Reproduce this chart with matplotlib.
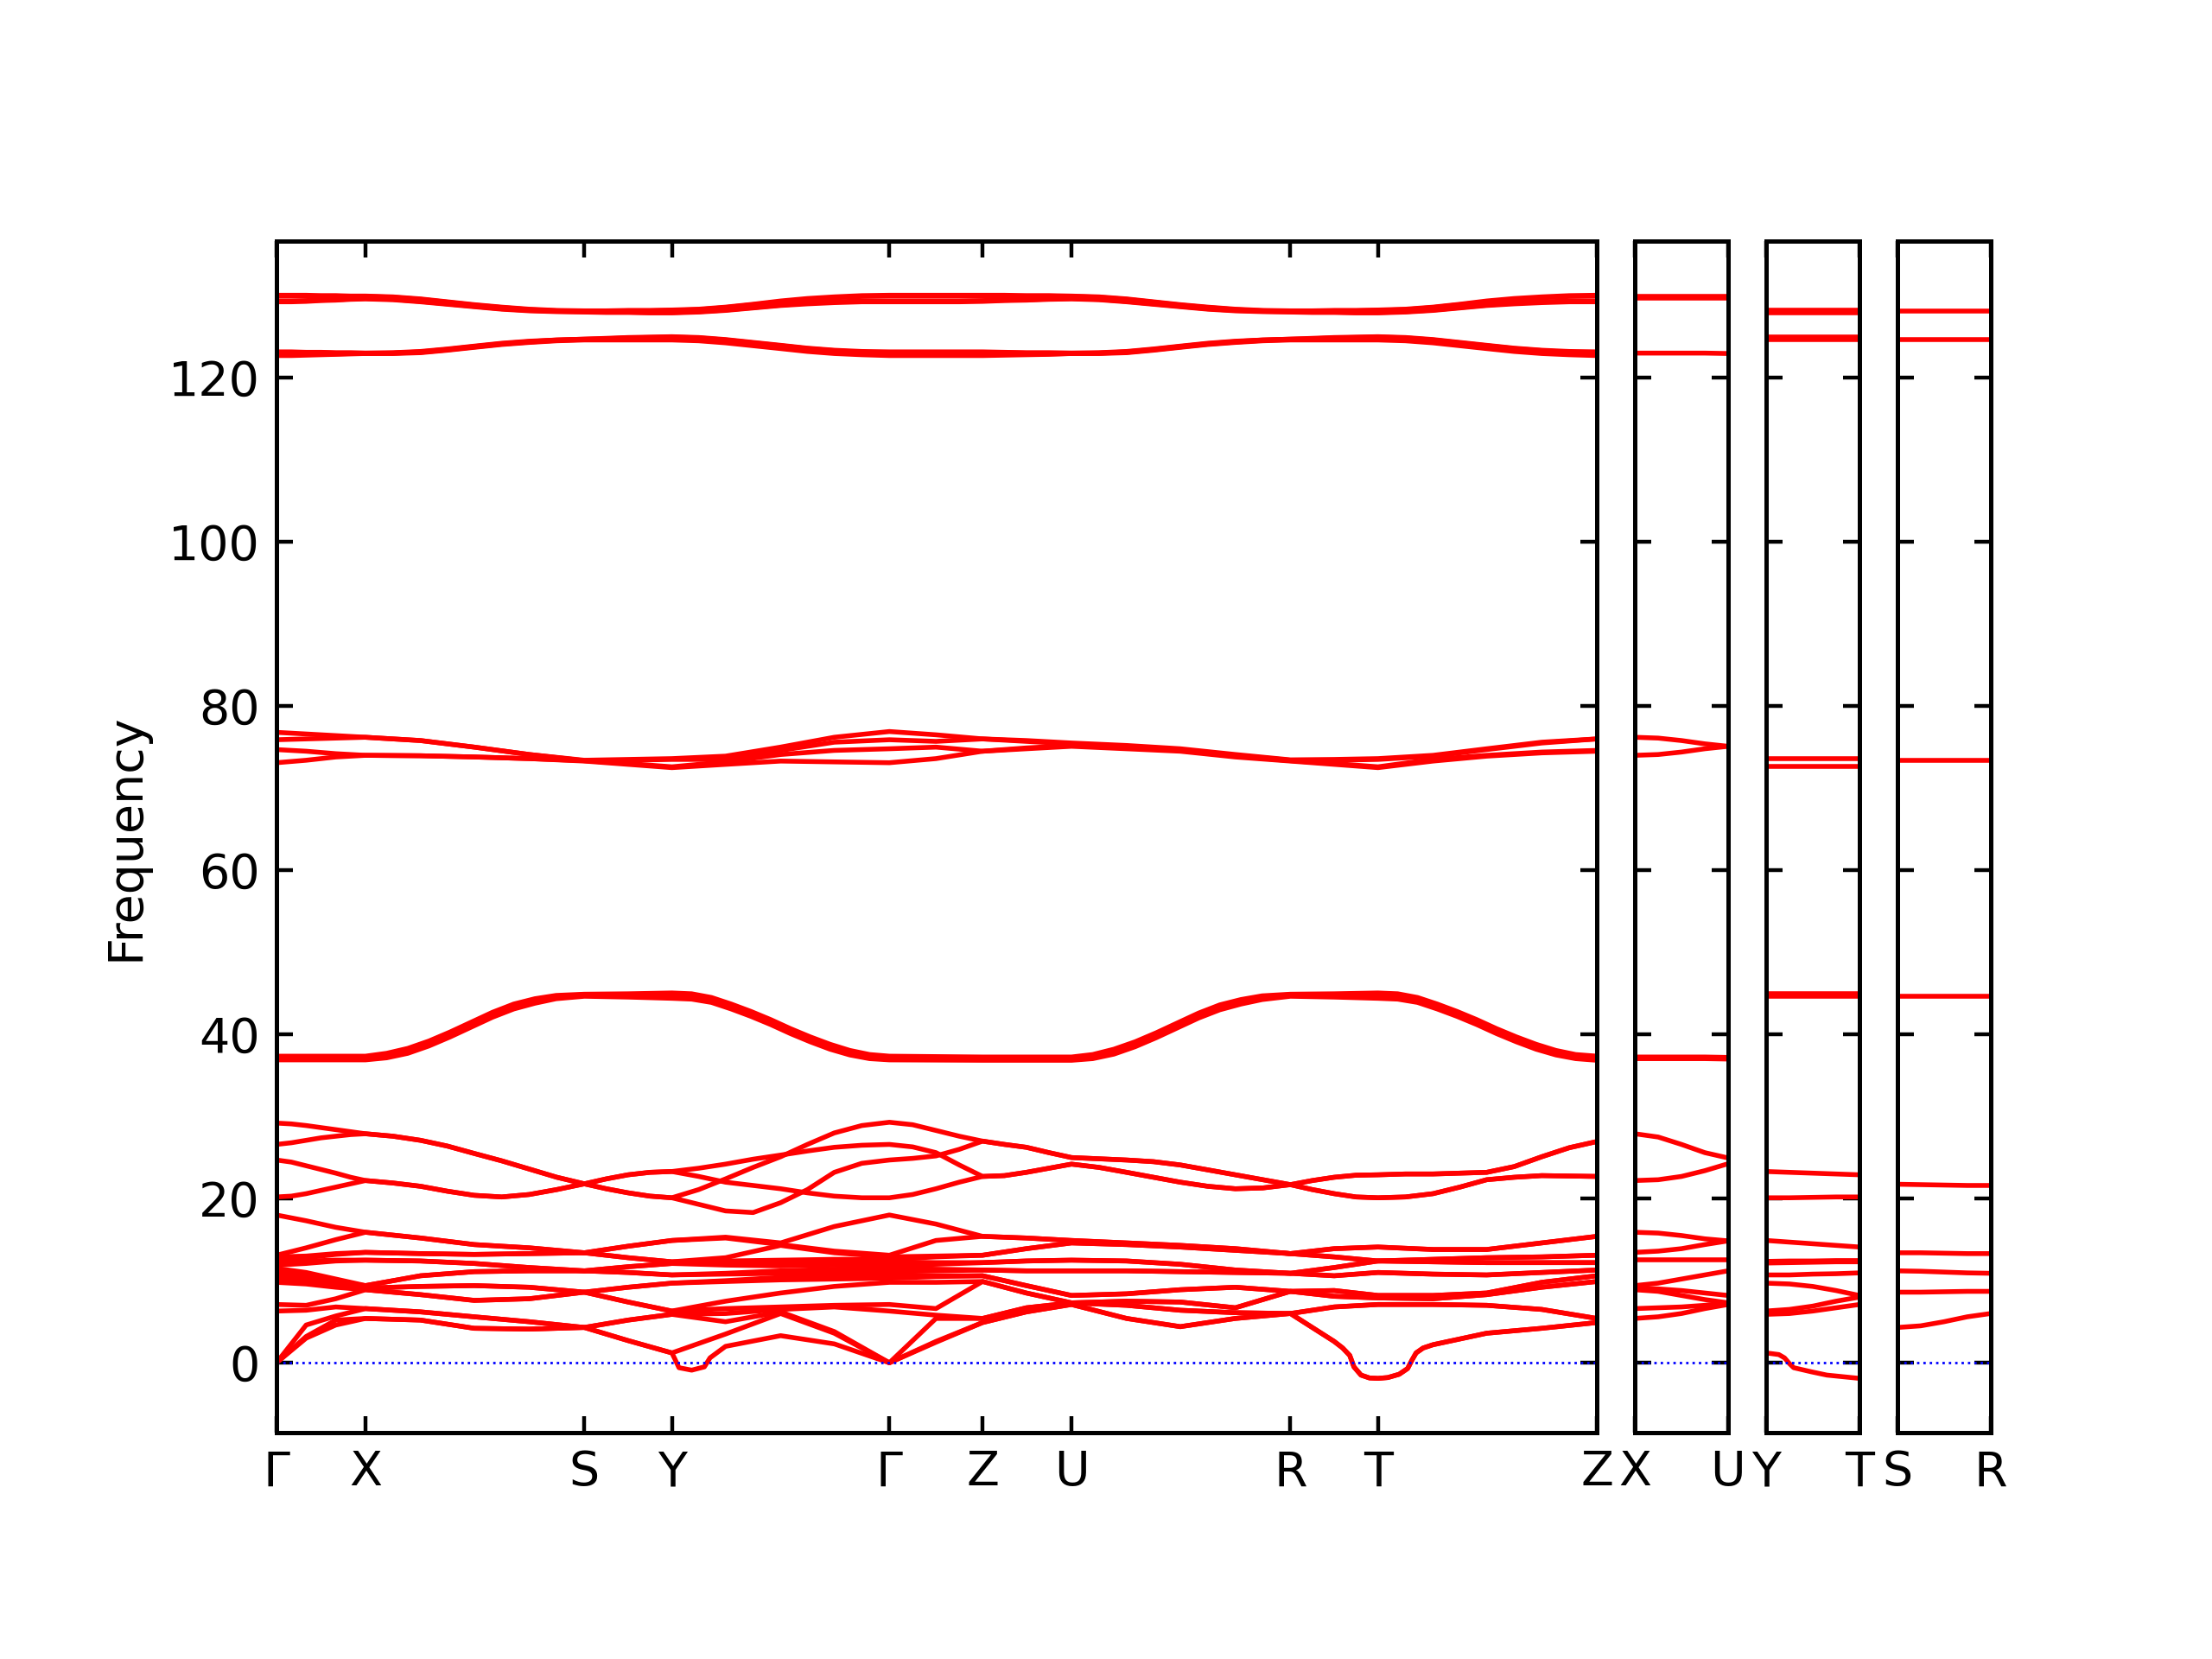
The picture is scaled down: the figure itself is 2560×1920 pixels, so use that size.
import numpy as np
import matplotlib
matplotlib.use('Agg')
import matplotlib.pyplot as plt

# k-path: labels and segment lengths (same units for every panel)
main_labels = ['Γ', 'X', 'S', 'Y', 'Γ', 'Z', 'U', 'R', 'T', 'Z']
main_seg_len = [63, 155, 62, 154, 66, 63, 155, 62, 155]
side_labels = [['X', 'U'], ['Y', 'T'], ['S', 'R']]
side_len = 66

# q-points (path distance) where frequencies were read
q_main = [0, 21, 42, 63, 102, 140, 179, 218, 249, 280, 318, 357, 395, 434,
          467, 500, 531, 563, 602, 640, 679, 718, 749, 780, 819, 857, 896, 935]
q_fine = [0, 10.5, 21, 31.5, 42, 52.5, 63,
          82.5, 102, 121, 140, 159.5, 179, 198.5, 218,
          233.5, 249, 264.5, 280,
          299, 318, 337.5, 357, 376, 395, 414.5, 434,
          450.5, 467, 483.5, 500,
          515.5, 531, 547, 563,
          582.5, 602, 621, 640, 659.5, 679, 698.5, 718,
          733.5, 749, 764.5, 780,
          799.5, 819, 838, 857, 876.5, 896, 915.5, 935]
q_g37 = [0, 63, 78, 93, 108, 123, 138, 153, 168, 183, 198, 218, 249, 280,
         294, 308, 322, 336, 350, 364, 378, 392, 406, 420, 434, 500, 563,
         578, 593, 608, 623, 638, 653, 668, 683, 698, 718, 749, 780,
         794, 808, 822, 836, 850, 864, 878, 892, 906, 920, 935]
q_side = [0, 16.5, 33, 49.5, 66]

# ---- main panel: ~130 group (on q_fine) ----
g130 = [
    [130.05, 130.05, 130.05, 130.0, 130.0, 129.95, 129.95,
     129.85, 129.6, 129.25, 128.9, 128.6, 128.35, 128.2, 128.15,
     128.15, 128.2, 128.2, 128.25,
     128.35, 128.6, 128.95, 129.35, 129.65, 129.85, 130.0, 130.05,
     130.05, 130.05, 130.05, 130.05,
     130.05, 130.0, 130.0, 129.95,
     129.85, 129.6, 129.25, 128.9, 128.6, 128.35, 128.2, 128.15,
     128.15, 128.2, 128.2, 128.25,
     128.35, 128.6, 128.95, 129.35, 129.65, 129.85, 130.0, 130.05],
    [129.95, 129.95, 129.95, 129.95, 129.95, 129.9, 129.9,
     129.8, 129.55, 129.2, 128.85, 128.55, 128.3, 128.15, 128.1,
     128.1, 128.15, 128.15, 128.2,
     128.3, 128.55, 128.9, 129.25, 129.55, 129.75, 129.9, 129.95,
     129.95, 129.95, 129.95, 129.95,
     129.95, 129.95, 129.95, 129.9,
     129.8, 129.55, 129.2, 128.85, 128.55, 128.3, 128.15, 128.1,
     128.1, 128.15, 128.15, 128.2,
     128.3, 128.55, 128.9, 129.25, 129.55, 129.75, 129.9, 129.95],
    [129.35, 129.35, 129.4, 129.45, 129.5, 129.6, 129.65,
     129.55, 129.3, 129.0, 128.7, 128.4, 128.2, 128.1, 128.05,
     128.0, 128.0, 127.95, 127.95,
     128.05, 128.25, 128.55, 128.85, 129.1, 129.25, 129.35, 129.35,
     129.35, 129.35, 129.35, 129.4,
     129.45, 129.5, 129.6, 129.65,
     129.55, 129.3, 129.0, 128.7, 128.4, 128.2, 128.1, 128.05,
     128.0, 128.0, 127.95, 127.95,
     128.05, 128.25, 128.55, 128.85, 129.1, 129.25, 129.35, 129.35],
    [129.25, 129.25, 129.3, 129.4, 129.45, 129.55, 129.6,
     129.5, 129.25, 128.95, 128.65, 128.35, 128.15, 128.05, 128.0,
     127.95, 127.95, 127.9, 127.9,
     128.0, 128.2, 128.5, 128.8, 129.0, 129.15, 129.25, 129.25,
     129.25, 129.25, 129.25, 129.3,
     129.4, 129.45, 129.55, 129.6,
     129.5, 129.25, 128.95, 128.65, 128.35, 128.15, 128.05, 128.0,
     127.95, 127.95, 127.9, 127.9,
     128.0, 128.2, 128.5, 128.8, 129.0, 129.15, 129.25, 129.25],
]
# ---- ~123 group (on q_fine) ----
g123 = [
    [123.15, 123.15, 123.1, 123.1, 123.05, 123.05, 123.0,
     123.05, 123.2, 123.5, 123.85, 124.2, 124.45, 124.6, 124.7,
     124.8, 124.9, 124.95, 125.0,
     124.9, 124.65, 124.3, 123.95, 123.6, 123.35, 123.2, 123.15,
     123.15, 123.15, 123.15, 123.15,
     123.1, 123.05, 123.05, 123.0,
     123.05, 123.2, 123.5, 123.85, 124.2, 124.45, 124.6, 124.7,
     124.8, 124.9, 124.95, 125.0,
     124.9, 124.65, 124.3, 123.95, 123.6, 123.35, 123.2, 123.15],
    [123.05, 123.05, 123.05, 123.05, 123.0, 123.0, 123.0,
     123.0, 123.15, 123.45, 123.8, 124.15, 124.4, 124.6, 124.7,
     124.75, 124.85, 124.9, 124.95,
     124.85, 124.6, 124.25, 123.9, 123.55, 123.3, 123.1, 123.05,
     123.05, 123.05, 123.05, 123.05,
     123.05, 123.0, 123.0, 123.0,
     123.0, 123.15, 123.45, 123.8, 124.15, 124.4, 124.6, 124.7,
     124.75, 124.85, 124.9, 124.95,
     124.85, 124.6, 124.25, 123.9, 123.55, 123.3, 123.1, 123.05],
    [122.8, 122.8, 122.85, 122.85, 122.9, 122.95, 122.95,
     123.0, 123.1, 123.4, 123.75, 124.1, 124.35, 124.55, 124.65,
     124.65, 124.7, 124.7, 124.7,
     124.6, 124.35, 124.0, 123.65, 123.3, 123.05, 122.9, 122.8,
     122.8, 122.8, 122.8, 122.8,
     122.85, 122.85, 122.9, 122.95,
     123.0, 123.1, 123.4, 123.75, 124.1, 124.35, 124.55, 124.65,
     124.65, 124.7, 124.7, 124.7,
     124.6, 124.35, 124.0, 123.65, 123.3, 123.05, 122.9, 122.8],
    [122.7, 122.7, 122.75, 122.8, 122.85, 122.9, 122.95,
     122.95, 123.05, 123.35, 123.7, 124.05, 124.3, 124.5, 124.6,
     124.6, 124.6, 124.6, 124.6,
     124.5, 124.25, 123.9, 123.55, 123.2, 122.95, 122.8, 122.7,
     122.7, 122.7, 122.7, 122.7,
     122.75, 122.8, 122.85, 122.95,
     122.95, 123.05, 123.35, 123.7, 124.05, 124.3, 124.5, 124.6,
     124.6, 124.6, 124.6, 124.6,
     124.5, 124.25, 123.9, 123.55, 123.2, 122.95, 122.8, 122.7],
]
# ---- 73-76 group, four values per q-point (on q_main) ----
g73_at_q = [
    [76.8, 75.9, 74.7, 73.1], [76.6, 76.0, 74.5, 73.4], [76.4, 76.1, 74.2, 73.8], [76.2, 76.2, 74.0, 74.0],
    [75.8, 75.8, 73.95, 73.95], [75.0, 75.0, 73.8, 73.8], [74.1, 74.1, 73.6, 73.6], [73.4, 73.35, 73.35, 73.3],
    [73.5, 73.4, 73.0, 72.9], [73.6, 73.5, 72.6, 72.5], [73.9, 73.5, 73.2, 72.9], [75.0, 74.6, 74.1, 73.3],
    [76.2, 75.6, 74.6, 73.2], [76.9, 75.9, 74.8, 73.1], [76.5, 75.7, 75.0, 73.6], [76.0, 76.0, 74.5, 74.5],
    [75.8, 75.7, 74.9, 74.8], [75.5, 75.4, 75.2, 75.1], [75.2, 75.1, 74.9, 74.8], [74.8, 74.7, 74.6, 74.5],
    [74.1, 74.0, 73.9, 73.8], [73.45, 73.4, 73.35, 73.3], [73.5, 73.4, 73.0, 72.9], [73.6, 73.5, 72.6, 72.5],
    [74.0, 73.9, 73.5, 73.3], [74.8, 74.7, 74.0, 73.9], [75.6, 75.5, 74.4, 74.3], [76.0, 76.0, 74.6, 74.5],
]
# ---- 37-45 group (on q_g37) ----
g37 = [
    [37.35, 37.35, 37.7, 38.3, 39.2, 40.3, 41.5, 42.7, 43.7, 44.35, 44.75, 44.9, 44.95, 45.05,
     44.95, 44.5, 43.7, 42.8, 41.8, 40.7, 39.7, 38.8, 38.05, 37.55, 37.35, 37.25, 37.25,
     37.55, 38.2, 39.1, 40.2, 41.4, 42.6, 43.6, 44.25, 44.7, 44.9, 44.95, 45.05,
     44.95, 44.5, 43.7, 42.8, 41.8, 40.7, 39.7, 38.8, 38.05, 37.55, 37.35],
    [37.2, 37.2, 37.5, 38.1, 39.0, 40.1, 41.3, 42.5, 43.5, 44.2, 44.65, 44.83, 44.85, 44.85,
     44.8, 44.3, 43.5, 42.6, 41.6, 40.5, 39.5, 38.6, 37.9, 37.4, 37.2, 37.1, 37.1,
     37.4, 38.0, 38.9, 40.0, 41.2, 42.4, 43.4, 44.1, 44.6, 44.83, 44.85, 44.85,
     44.8, 44.3, 43.5, 42.6, 41.6, 40.5, 39.5, 38.6, 37.9, 37.4, 37.2],
    [37.0, 37.0, 37.3, 37.9, 38.8, 39.9, 41.1, 42.3, 43.3, 44.0, 44.5, 44.75, 44.7, 44.6,
     44.55, 44.1, 43.3, 42.4, 41.4, 40.3, 39.3, 38.4, 37.7, 37.2, 37.0, 36.95, 36.95,
     37.2, 37.8, 38.7, 39.8, 41.0, 42.2, 43.2, 43.9, 44.4, 44.75, 44.7, 44.6,
     44.55, 44.1, 43.3, 42.4, 41.4, 40.3, 39.3, 38.4, 37.7, 37.2, 37.0],
    [36.9, 36.9, 37.15, 37.7, 38.6, 39.7, 40.9, 42.1, 43.1, 43.8, 44.35, 44.65, 44.55, 44.4,
     44.3, 43.9, 43.1, 42.2, 41.2, 40.1, 39.1, 38.2, 37.5, 37.05, 36.9, 36.85, 36.85,
     37.05, 37.6, 38.5, 39.6, 40.8, 42.0, 43.0, 43.7, 44.25, 44.65, 44.55, 44.4,
     44.3, 43.9, 43.1, 42.2, 41.2, 40.1, 39.1, 38.2, 37.5, 37.05, 36.85],
]
# ---- 18-30 group (on q_fine) ----
g20 = [
    [29.2, 29.1, 28.9, 28.65, 28.4, 28.15, 27.9,
     27.6, 27.1, 26.4, 25.5, 24.6, 23.6, 22.6, 21.8,
     21.2, 20.7, 20.3, 20.1,
     21.1, 22.4, 23.8, 25.1, 26.6, 28.0, 28.9, 29.3,
     29.0, 28.3, 27.6, 27.0,
     26.6, 26.25, 25.6, 25.0,
     24.85, 24.7, 24.5, 24.1, 23.5, 22.9, 22.3, 21.7,
     21.1, 20.6, 20.2, 20.1,
     20.2, 20.6, 21.4, 22.3, 22.6, 22.8, 22.75, 22.7],
    [26.6, 26.8, 27.1, 27.4, 27.6, 27.8, 27.9,
     27.6, 27.1, 26.4, 25.5, 24.6, 23.6, 22.6, 21.8,
     21.2, 20.7, 20.3, 20.1,
     19.3, 18.5, 18.3, 19.5, 21.1, 23.2, 24.3, 24.7,
     24.9, 25.2, 26.0, 27.0,
     26.6, 26.25, 25.6, 25.0,
     24.85, 24.7, 24.5, 24.1, 23.5, 22.9, 22.3, 21.7,
     21.1, 20.6, 20.2, 20.1,
     20.2, 20.6, 21.4, 22.3, 22.6, 22.8, 22.75, 22.7],
    [24.7, 24.45, 24.0, 23.55, 23.1, 22.6, 22.2,
     21.9, 21.5, 20.9, 20.4, 20.2, 20.5, 21.1, 21.8,
     22.4, 22.9, 23.2, 23.3,
     22.7, 22.0, 21.6, 21.2, 20.7, 20.3, 20.1, 20.1,
     20.5, 21.2, 22.0, 22.7,
     22.8, 23.2, 23.7, 24.2,
     23.8, 23.2, 22.6, 22.0, 21.5, 21.2, 21.3, 21.7,
     22.2, 22.6, 22.85, 22.9,
     23.0, 23.0, 23.1, 23.2, 23.9, 25.1, 26.2, 26.95],
    [20.2, 20.3, 20.6, 21.0, 21.4, 21.8, 22.2,
     21.9, 21.5, 20.9, 20.4, 20.2, 20.5, 21.1, 21.8,
     22.4, 22.9, 23.2, 23.3,
     23.7, 24.2, 24.8, 25.3, 25.8, 26.25, 26.5, 26.6,
     26.3, 25.6, 24.1, 22.7,
     22.8, 23.2, 23.7, 24.2,
     23.8, 23.2, 22.6, 22.0, 21.5, 21.2, 21.3, 21.7,
     22.2, 22.6, 22.85, 22.9,
     23.0, 23.0, 23.1, 23.2, 23.9, 25.1, 26.2, 26.95],
]
# ---- lowest 16 bands, sorted values at every q_main point ----
low_at_q = [
    [0, 0, 0, 6.3, 7.1, 9.8, 10.3, 10.7, 11.1, 11.5, 11.9, 12.3, 12.6, 12.9, 13.1, 18.0],
    [3.0, 3.2, 4.6, 6.4, 7.0, 9.6, 9.9, 10.3, 10.6, 11.0, 12.1, 12.4, 12.8, 13.0, 14.0, 17.3],
    [4.6, 5.2, 5.7, 6.8, 7.8, 9.2, 9.3, 9.6, 9.8, 10.2, 12.4, 12.5, 13.2, 13.3, 15.0, 16.5],
    [5.4, 5.4, 6.6, 6.6, 8.9, 8.9, 9.1, 9.1, 9.4, 9.4, 12.5, 12.5, 13.45, 13.45, 15.9, 15.9],
    [5.2, 5.2, 6.2, 6.2, 8.3, 8.3, 9.3, 9.3, 10.6, 10.6, 12.4, 12.4, 13.3, 13.3, 15.2, 15.2],
    [4.2, 4.2, 5.6, 5.6, 7.6, 7.6, 9.4, 9.4, 11.1, 11.1, 12.1, 12.1, 13.2, 13.2, 14.4, 14.4],
    [4.1, 4.1, 5.0, 5.0, 7.8, 7.8, 9.2, 9.2, 11.2, 11.2, 11.6, 11.6, 13.3, 13.3, 14.0, 14.0],
    [4.3, 4.3, 4.3, 4.3, 8.6, 8.6, 8.6, 8.6, 11.2, 11.2, 11.2, 11.2, 13.4, 13.4, 13.4, 13.4],
    [2.7, 2.7, 5.2, 5.2, 7.4, 7.4, 9.2, 9.2, 11.0, 11.0, 11.7, 11.7, 12.8, 12.8, 14.2, 14.2],
    [1.2, 1.2, 5.9, 5.9, 6.3, 6.3, 9.7, 9.7, 10.7, 10.7, 12.1, 12.1, 12.3, 12.3, 14.9, 14.9],
    [2.0, 3.5, 5.0, 6.0, 6.6, 7.5, 9.9, 10.0, 10.8, 10.9, 11.9, 12.1, 12.4, 12.8, 15.2, 15.3],
    [3.3, 6.0, 6.2, 6.5, 6.8, 8.5, 10.1, 10.4, 10.9, 11.2, 11.8, 12.2, 12.5, 14.3, 14.4, 14.6],
    [2.3, 3.6, 3.8, 6.8, 7.0, 9.3, 10.2, 10.6, 11.0, 11.4, 11.9, 12.3, 12.6, 13.4, 13.6, 16.6],
    [0, 0, 0, 6.3, 7.1, 9.8, 10.3, 10.7, 11.1, 11.5, 11.9, 12.3, 12.6, 12.9, 13.1, 18.0],
    [2.5, 2.6, 5.4, 5.8, 6.6, 9.8, 10.5, 10.6, 11.2, 11.4, 12.0, 12.2, 12.9, 13.0, 14.9, 16.9],
    [4.9, 4.9, 5.4, 5.4, 9.9, 9.9, 10.6, 10.6, 11.3, 11.3, 12.2, 12.2, 13.1, 13.1, 15.4, 15.4],
    [6.2, 6.2, 6.7, 6.7, 8.5, 8.5, 9.4, 9.4, 11.2, 11.2, 12.4, 12.4, 13.9, 13.9, 15.2, 15.2],
    [7.1, 7.1, 7.3, 7.3, 7.3, 7.3, 8.2, 8.2, 11.2, 11.2, 12.5, 12.5, 14.6, 14.6, 14.9, 14.9],
    [5.4, 5.4, 7.0, 7.0, 7.5, 7.5, 8.4, 8.4, 11.2, 11.2, 12.4, 12.4, 14.4, 14.4, 14.6, 14.6],
    [4.4, 4.4, 6.4, 6.4, 7.4, 7.4, 8.9, 8.9, 11.1, 11.1, 12.0, 12.0, 14.1, 14.1, 14.3, 14.3],
    [5.4, 5.4, 6.1, 6.1, 6.7, 6.7, 9.2, 9.2, 11.0, 11.0, 11.3, 11.3, 13.7, 13.7, 13.9, 13.9],
    [6.0, 6.0, 6.0, 6.0, 8.7, 8.7, 8.7, 8.7, 10.9, 10.9, 10.9, 10.9, 13.3, 13.3, 13.3, 13.3],
    [2.6, 2.6, 6.8, 6.8, 8.1, 8.1, 8.8, 8.8, 10.6, 10.6, 11.6, 11.6, 12.9, 12.9, 13.9, 13.9],
    [-1.9, -1.9, 7.1, 7.1, 7.9, 7.9, 8.2, 8.2, 11.0, 11.0, 12.4, 12.4, 12.4, 12.4, 14.1, 14.1],
    [2.2, 2.2, 7.1, 7.1, 7.8, 7.8, 8.2, 8.2, 10.8, 10.8, 12.3, 12.3, 12.6, 12.6, 13.8, 13.8],
    [3.6, 3.6, 7.0, 7.0, 8.3, 8.3, 8.5, 8.5, 10.7, 10.7, 12.2, 12.2, 12.8, 12.8, 13.8, 13.8],
    [4.2, 4.2, 6.5, 6.5, 9.2, 9.2, 9.8, 9.8, 11.0, 11.0, 12.2, 12.2, 12.9, 12.9, 14.6, 14.6],
    [4.9, 4.9, 5.4, 5.4, 9.9, 9.9, 10.6, 10.6, 11.3, 11.3, 12.2, 12.2, 13.1, 13.1, 15.4, 15.4],
]
# soft-mode dips (extra points on the lowest band)
dip_y_q = [282, 285, 294, 303, 307]
dip_y_f = [0.5, -0.6, -0.9, -0.5, 0.6]
dip_t_q = [755, 760, 763, 768, 774, 787, 795, 801, 804, 807, 812]
dip_t_f = [1.8, 0.9, -0.5, -1.5, -1.85, -1.8, -1.4, -0.7, 0.3, 1.2, 1.8]

# ---- side panels (one list per distinct band, values at q_side) ----
xu_bands = [
    [129.95, 129.95, 129.95, 129.95, 129.95], [129.65, 129.65, 129.65, 129.65, 129.65],
    [123.0, 123.0, 123.0, 123.0, 122.95],
    [76.2, 76.1, 75.8, 75.4, 75.1], [74.0, 74.1, 74.4, 74.8, 75.1],
    [37.25, 37.25, 37.25, 37.25, 37.2], [37.05, 37.05, 37.05, 37.05, 37.0],
    [27.9, 27.5, 26.6, 25.6, 24.95], [22.2, 22.3, 22.7, 23.4, 24.25],
    [15.9, 15.8, 15.5, 15.1, 14.85], [13.45, 13.6, 13.9, 14.4, 14.85],
    [12.5, 12.5, 12.5, 12.5, 12.5], [9.4, 9.7, 10.2, 10.7, 11.2],
    [9.1, 9.0, 8.8, 8.5, 8.2], [8.9, 8.7, 8.2, 7.7, 7.3],
    [6.6, 6.7, 6.8, 7.0, 7.3], [5.4, 5.6, 6.0, 6.6, 7.1],
]
yt_bands = [
    [128.25, 128.25, 128.25, 128.25, 128.25], [127.95, 127.95, 127.95, 127.95, 127.95],
    [125.0, 125.0, 125.0, 125.0, 125.0], [124.7, 124.7, 124.7, 124.7, 124.7],
    [73.6, 73.6, 73.6, 73.6, 73.6], [72.6, 72.6, 72.6, 72.6, 72.6],
    [45.0, 45.0, 45.0, 45.0, 45.0], [44.6, 44.6, 44.6, 44.6, 44.6],
    [23.3, 23.2, 23.1, 23.0, 22.9], [20.1, 20.1, 20.15, 20.2, 20.2],
    [14.9, 14.7, 14.5, 14.3, 14.1], [12.15, 12.2, 12.25, 12.3, 12.3],
    [12.35, 12.4, 12.4, 12.45, 12.45], [10.7, 10.7, 10.8, 10.85, 10.95],
    [9.7, 9.6, 9.3, 8.8, 8.2], [6.3, 6.5, 6.9, 7.5, 8.0], [5.9, 6.0, 6.3, 6.7, 7.1],
]
yt_dip_q = [0, 9, 13, 16.5, 19.5, 32, 43, 66]
yt_dip_f = [1.2, 1.0, 0.6, -0.1, -0.6, -1.1, -1.5, -1.9]
sr_bands = [
    [128.1, 128.1, 128.1, 128.1, 128.1], [124.7, 124.7, 124.7, 124.7, 124.7],
    [73.35, 73.35, 73.35, 73.35, 73.35], [44.7, 44.7, 44.7, 44.7, 44.7],
    [21.75, 21.7, 21.65, 21.6, 21.6], [13.4, 13.4, 13.35, 13.3, 13.3],
    [11.2, 11.15, 11.05, 10.95, 10.9], [8.6, 8.6, 8.65, 8.7, 8.7],
    [4.3, 4.5, 5.0, 5.6, 6.0],
]

# ---- assemble curves ----
main_curves = []
for b in g130 + g123 + g20:
    main_curves.append((q_fine, b))
for b in g37:
    main_curves.append((q_g37, b))
for b in np.array(g73_at_q).T:
    main_curves.append((q_main, b))
for i, b in enumerate(np.array(low_at_q).T):
    q = list(q_main)
    f = list(b)
    if i == 0:
        q += dip_y_q + dip_t_q
        f += dip_y_f + dip_t_f
    elif i == 1:
        q += dip_t_q
        f += dip_t_f
    order = np.argsort(q)
    main_curves.append((np.array(q)[order], np.array(f)[order]))

side_curves = [
    [(q_side, b) for b in xu_bands],
    [(q_side, b) for b in yt_bands] + [(yt_dip_q, yt_dip_f)],
    [(q_side, b) for b in sr_bands],
]

# ---- figure ----
fig = plt.figure(figsize=(6.4, 4.8), dpi=400)
total_main = sum(main_seg_len)
unit = 0.5969 / total_main
bottom, height, gap = 0.1365, 0.7182, 0.0172

panels = [(total_main, list(np.cumsum([0] + main_seg_len)), main_labels, main_curves)]
for labs, curves in zip(side_labels, side_curves):
    panels.append((side_len, [0, side_len], labs, curves))

x0 = 0.125
for k, (L, ticks, labs, curves) in enumerate(panels):
    ax = fig.add_axes([x0, bottom, L * unit, height])
    x0 += L * unit + gap
    for q, f in curves:
        ax.plot(q, f, color='r', lw=1.0)
    ax.plot([0, L], [0, 0], ls=':', color='b', lw=0.5)
    ax.set_xlim(0, L)
    ax.set_ylim(-8.5, 136.65)
    ax.set_xticks(ticks)
    ax.set_xticklabels(labs)
    ax.set_yticks([0, 20, 40, 60, 80, 100, 120])
    ax.tick_params(direction='in', top=True, right=True, labelsize=10,
                   labelleft=(k == 0))
    for s in ax.spines.values():
        s.set_linewidth(0.9)
    if k == 0:
        ax.set_ylabel('Frequency', fontsize=10)

fig.savefig('out.png', dpi=400)
